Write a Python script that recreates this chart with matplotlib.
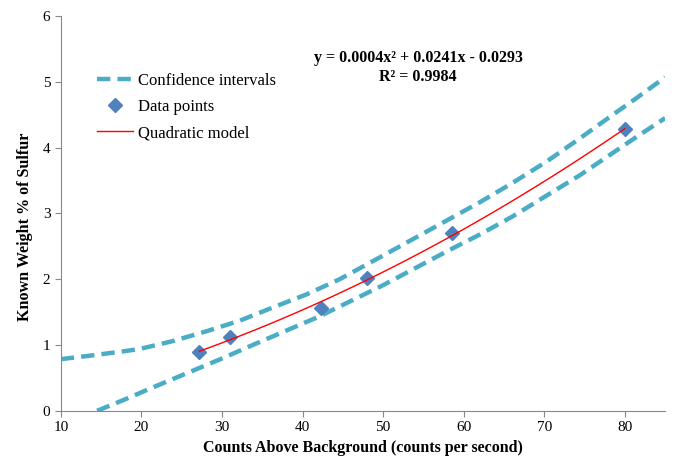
import numpy as np
import matplotlib
matplotlib.use("Agg")
import matplotlib.pyplot as plt

plt.rcParams['font.family'] = ['Liberation Serif', 'DejaVu Serif']

# measured data points
counts = [27.2, 31.0, 42.3, 48.0, 58.6, 80.0]
weight = [0.90, 1.12, 1.57, 2.02, 2.70, 4.28]

# confidence bands
ci_up_x = [10, 13.4, 17.5, 19.8, 23.9, 28.1, 32.2, 36.3, 40.5, 44.6, 50, 54, 58, 62, 66, 70.3, 74.4,
           78.5, 81.4, 85]
ci_upper = [0.785, 0.835, 0.90, 0.94, 1.06, 1.21, 1.37, 1.57, 1.77, 2.00, 2.36, 2.63, 2.90, 3.17, 3.46,
            3.79, 4.14, 4.50, 4.75, 5.07]
ci_lo_x = [14.5, 17.5, 21.7, 25.8, 29.9, 34, 38, 42, 46, 50, 54, 58, 62, 66, 70, 74.4, 78.5, 81.4, 85]
ci_lower = [0.0, 0.15, 0.37, 0.58, 0.79, 1.01, 1.22, 1.43, 1.67, 1.91, 2.17, 2.43, 2.68, 2.95, 3.25,
            3.58, 3.92, 4.16, 4.45]

teal = '#4BACC6'
blue = '#4F81BD'

fig = plt.figure(figsize=(6.76, 4.59), dpi=100)
ax = fig.add_axes([0.090, 0.105, 0.894, 0.860])

ax.plot(ci_up_x, ci_upper, color=teal, lw=3.2, ls=(0, (3, 1.6)), label='Confidence intervals')
ax.plot(ci_lo_x, ci_lower, color=teal, lw=3.2, ls=(0, (3, 1.6)))
ax.plot(counts, weight, ls='none', marker='D', ms=7, color=blue, label='Data points')

# quadratic fit through the data
coef = np.polyfit(counts, weight, 2)
xs = np.linspace(min(counts), max(counts), 100)
ax.plot(xs, np.polyval(coef, xs), color='red', lw=1, label='Quadratic model')

ax.set_xlim(10, 85)
ax.set_ylim(0, 6)
ax.set_xticks(range(10, 81, 10))
ax.set_yticks(range(0, 7))
for s in ['top', 'right']:
    ax.spines[s].set_visible(False)
for s in ['left', 'bottom']:
    ax.spines[s].set_color('#888888')
ax.tick_params(colors='#888888', labelcolor='black', labelsize=11, length=4)

ax.set_xlabel('Counts Above Background (counts per second)', fontsize=11.5, fontweight='bold', labelpad=4)
ax.set_ylabel('Known Weight % of Sulfur', fontsize=11.6, fontweight='bold')
ax.yaxis.set_label_coords(-0.046, 0.466)

ax.text(0.591, 0.894, 'y = 0.0004x² + 0.0241x - 0.0293', transform=ax.transAxes,
        ha='center', va='center', fontsize=11.5, fontweight='bold')
ax.text(0.591, 0.846, 'R² = 0.9984', transform=ax.transAxes,
        ha='center', va='center', fontsize=11.5, fontweight='bold')

leg = ax.legend(loc='upper left', bbox_to_anchor=(0.0485, 0.872), frameon=False, fontsize=12,
                handlelength=2.15, handletextpad=0.3, labelspacing=0.6, borderaxespad=0)

fig.savefig('out.png', dpi=100)
